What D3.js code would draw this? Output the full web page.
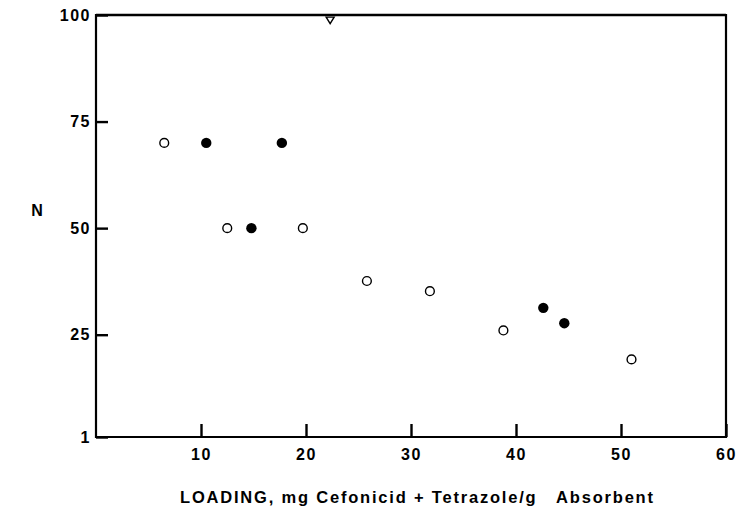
<!DOCTYPE html>
<html>
<head>
<meta charset="utf-8">
<script src="https://cdn.jsdelivr.net/npm/d3@7"></script>
<style>
  html, body { margin: 0; padding: 0; background: #fff; }
  svg { display: block; }
  text { font-family: "Liberation Sans", Arial, sans-serif; font-weight: bold; fill: #000; }
</style>
</head>
<body>
<script>
// ---- data ----
const xTickValues = [10, 20, 30, 40, 50, 60];
const xTickLabels = ["10", "20", "30", "40", "50", "60"];
const yTickValues = [1, 25, 50, 75, 100];
const yTickLabels = ["1", "25", "50", "75", "100"];

const openX   = [6.5, 12.5, 19.7, 25.8, 31.8, 38.8, 51.0];
const openY   = [70, 50, 50, 37.6, 35.2, 26.0, 19.2];
const filledX = [10.5, 14.8, 17.7, 42.6, 44.6];
const filledY = [70, 50, 70, 31.3, 27.7];
const triX    = [22.3];
const triY    = [98.8];

const xLabel = "LOADING, mg Cefonicid + Tetrazole/g   Absorbent";
const yLabel = "N";

// ---- layout ----
const W = 739, H = 509;
const mLeft = 96, mRight = 726, mTop = 15, mBottom = 437;

const svg = d3.select("body").append("svg").attr("width", W).attr("height", H);

const x = d3.scaleLinear().domain([0, 60]).range([mLeft, mRight]);
const y = d3.scaleLinear().domain([1, 100]).range([mBottom, mTop]);

// frame
const frame = svg.append("g");
frame.append("line").attr("x1", mLeft).attr("x2", mRight).attr("y1", mTop).attr("y2", mTop)
  .attr("stroke", "#000").attr("stroke-width", 2.4);
frame.append("line").attr("x1", mRight).attr("x2", mRight).attr("y1", mTop - 1).attr("y2", mBottom + 1)
  .attr("stroke", "#000").attr("stroke-width", 2.2);
frame.append("line").attr("x1", mLeft).attr("x2", mRight).attr("y1", mBottom).attr("y2", mBottom)
  .attr("stroke", "#000").attr("stroke-width", 2.2);
frame.append("line").attr("x1", mLeft).attr("x2", mLeft).attr("y1", mTop - 1).attr("y2", mBottom + 1)
  .attr("stroke", "#000").attr("stroke-width", 2.2);

// x axis
const xAxis = d3.axisBottom(x)
  .tickValues(xTickValues)
  .tickFormat((d, i) => xTickLabels[i])
  .tickSizeInner(-13).tickSizeOuter(0).tickPadding(12);
const gx = svg.append("g").attr("transform", `translate(0,${mBottom})`).call(xAxis);
gx.select(".domain").remove();
gx.selectAll(".tick line").attr("stroke", "#000").attr("stroke-width", 2.4);
gx.selectAll(".tick text").style("font-size", "16px").style("font-weight", "bold")
  .style("letter-spacing", "1.5px").attr("font-family", null);

// y axis
const yAxis = d3.axisLeft(y)
  .tickValues(yTickValues)
  .tickFormat((d, i) => yTickLabels[i])
  .tickSizeInner(-12).tickSizeOuter(0).tickPadding(5);
const gy = svg.append("g").attr("transform", `translate(${mLeft},0)`).call(yAxis);
gy.select(".domain").remove();
gy.selectAll(".tick line").attr("stroke", "#000").attr("stroke-width", 2.4);
gy.selectAll(".tick text").style("font-size", "16px").style("font-weight", "bold")
  .style("letter-spacing", "1.5px").attr("font-family", null);

// labels
svg.append("text")
  .attr("x", 180).attr("y", 503)
  .attr("textLength", 473).attr("lengthAdjust", "spacing")
  .style("font-size", "16.5px").style("white-space", "pre")
  .text(xLabel);

svg.append("text")
  .attr("x", 37).attr("y", 216)
  .attr("text-anchor", "middle")
  .style("font-size", "16px")
  .text(yLabel);

// points
const openPts = openX.map((d, i) => [d, openY[i]]);
const filledPts = filledX.map((d, i) => [d, filledY[i]]);
const triPts = triX.map((d, i) => [d, triY[i]]);

svg.append("g").selectAll("circle").data(openPts).join("circle")
  .attr("cx", d => x(d[0])).attr("cy", d => y(d[1])).attr("r", 4.4)
  .attr("fill", "#fff").attr("stroke", "#000").attr("stroke-width", 1.4);

svg.append("g").selectAll("circle").data(filledPts).join("circle")
  .attr("cx", d => x(d[0])).attr("cy", d => y(d[1])).attr("r", 5.2)
  .attr("fill", "#000");

svg.append("g").selectAll("path").data(triPts).join("path")
  .attr("transform", d => `translate(${x(d[0])},${y(d[1])})`)
  .attr("d", "M-4,-3 L4,-3 L0,3.5 Z")
  .attr("fill", "#fff").attr("stroke", "#000").attr("stroke-width", 1.4);
</script>
</body>
</html>
